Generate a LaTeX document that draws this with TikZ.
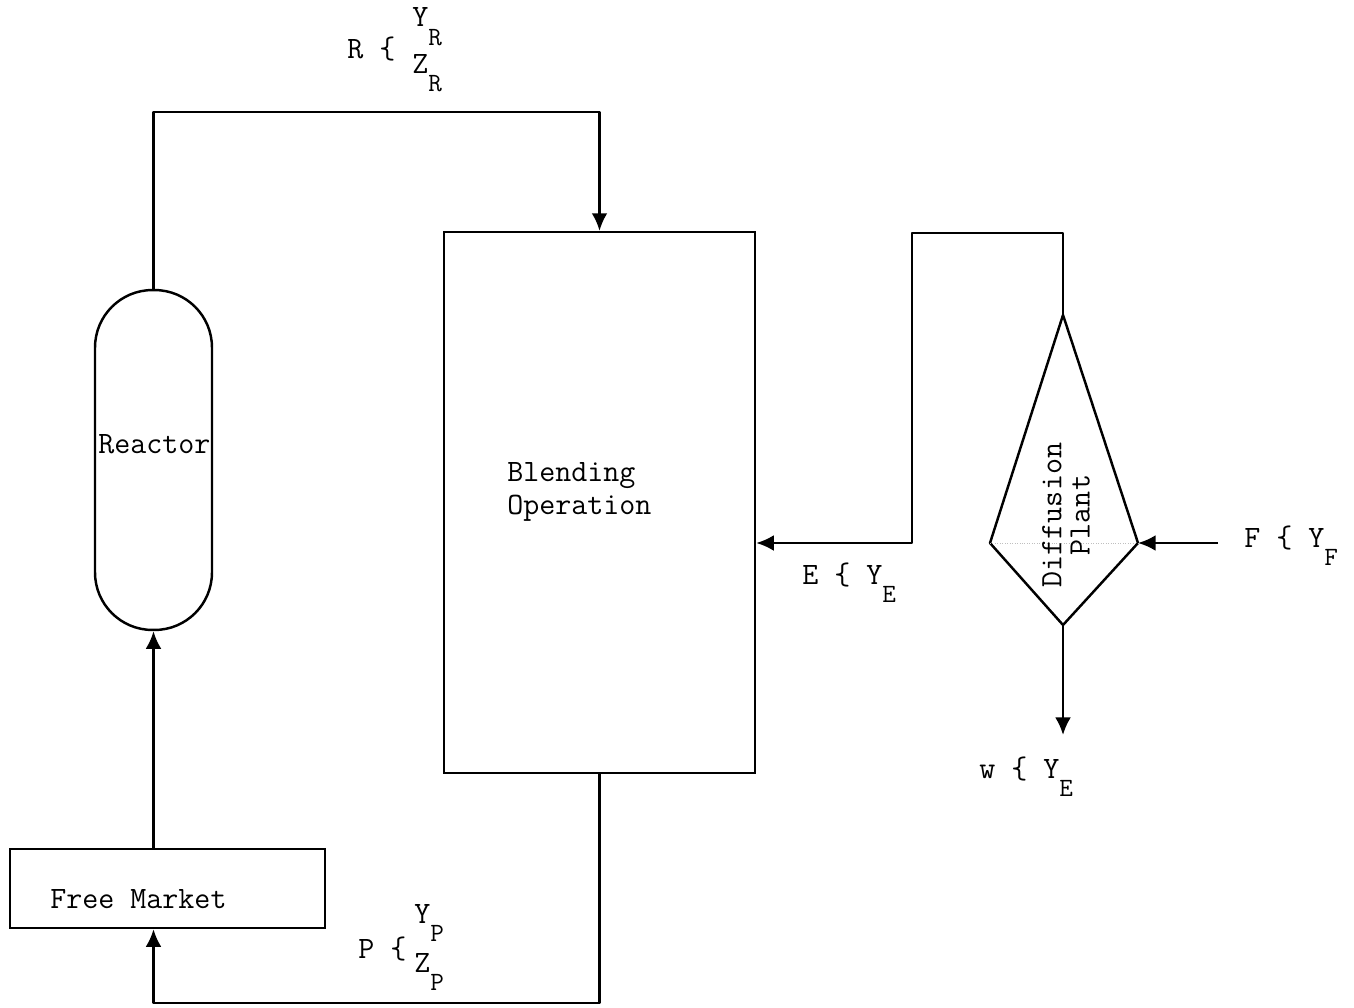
\documentclass[tikz,border=0pt]{standalone}
\usepackage{fontspec}
\usetikzlibrary{arrows.meta, positioning, calc}

% lowered stream subscript, typewriter style
\newcommand{\flowsub}[1]{\raisebox{-0.6em}{\fontsize{15}{15}\selectfont #1}}

\begin{document}
\begin{tikzpicture}[
    x=0.02cm, y=-0.02cm,
    % ── shared styles ───────────────────────────────────────────────
    unit box/.style={
        rectangle, draw=black, line width=1.4pt, inner sep=0pt,
    },
    reactor vessel/.style={
        unit box, rounded corners=1.15cm,
        minimum width=2.34cm, minimum height=6.8cm,
    },
    flow text/.style={
        font=\ttfamily\fontsize{17.7}{19}\selectfont,
        inner sep=0pt, anchor=base west,
    },
    stream/.style={line width=1.4pt, line join=round},
    flow/.style={
        stream, -{Latex[length=10pt,width=9pt]},
    },
]
\useasboundingbox (0,0) rectangle (1354,1007);

% =============================================================
%  UNITS
% =============================================================
\node[reactor vessel] (reactor) at (153.5,460) {};
\node[flow text] (reactortxt) at (98,453) {Reactor};

\node[unit box, minimum width=6.22cm, minimum height=10.82cm] (blend)
    at (599.5,502.5) {};
\node[flow text, anchor=west, align=left] (blendtxt) at (507,492)
    {Blending\\Operation};

\node[unit box, minimum width=6.3cm, minimum height=1.58cm] (market)
    at (167.5,888.5) {};
\node[flow text] (markettxt) at (50,908) {Free Market};

% Diffusion plant (kite shape)
\coordinate (dtop)   at (1063,315);
\coordinate (dleft)  at (990,543);
\coordinate (dright) at (1138,543);
\coordinate (dbot)   at (1063,625);
\draw[stream] (dtop) -- (dright) -- (dbot) -- (dleft) -- cycle;
\draw[black!25, densely dotted] (dleft) -- (dright);
\node[flow text, font=\ttfamily\fontsize{17.7}{16}\selectfont,
      anchor=center, align=center, rotate=90] (difftxt) at (1066,515)
    {Diffusion\\Plant};

% =============================================================
%  STREAMS
% =============================================================
\coordinate (ebend) at (912,233);
\coordinate (fsrc)  at (1218,543);
\coordinate (wout)  at (1063,735);

\draw[flow] (reactor.north) -- (reactor.north |- 0,112) -| (blend.north);
\draw[flow] (blend.south) -- (blend.south |- 0,1003)
    -| (market.south -| reactor.south);
\draw[flow] (market.north -| reactor.south) -- (reactor.south);
\draw[flow] (dtop) |- (ebend) |- (blend.east |- dleft);
\draw[flow] (fsrc) -- (dright);
\draw[flow] (dbot) -- (wout);

% =============================================================
%  Stream labels
% =============================================================
\node[flow text] (rname) at (347,59)  {R \{};
\node[flow text] (ryr)   at (412,27)  {Y\flowsub{R}};
\node[flow text] (rzr)   at (412,73)  {Z\flowsub{R}};

\node[flow text] (pname) at (358,958) {P \{};
\node[flow text] (pyp)   at (414,923) {Y\flowsub{P}};
\node[flow text] (pzp)   at (414,972) {Z\flowsub{P}};

\node[flow text] (elbl) at (802,584)  {E \{ Y\flowsub{E}};
\node[flow text] (wlbl) at (979,778)  {w \{ Y\flowsub{E}};
\node[flow text] (flbl) at (1244,547) {F \{ Y\flowsub{F}};

\end{tikzpicture}
\end{document}
